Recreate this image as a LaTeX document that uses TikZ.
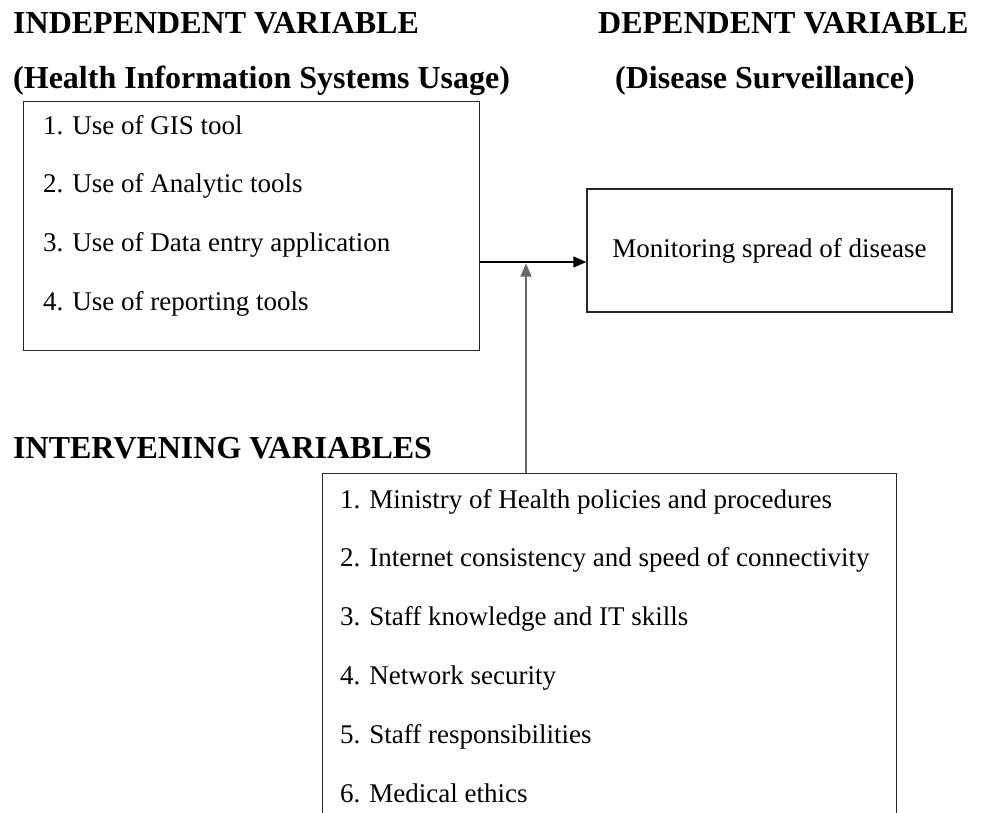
\documentclass[tikz,border=0pt]{standalone}
\usepackage{fontspec}
\setmainfont{Liberation Serif}
\usetikzlibrary{arrows.meta}

\tikzset{
  head/.style={anchor=base west, inner sep=0pt, font=\bfseries\fontsize{32}{36}\selectfont},
  item/.style={anchor=base west, inner sep=0pt, font=\fontsize{27}{32}\selectfont},
  varbox/.style={draw=black!85, line width=1.4pt, inner sep=0pt},
  link/.style={draw=black, line width=1.3pt, -{Triangle[length=13pt,width=11pt]}}
}

\begin{document}
\begin{tikzpicture}[x=1pt, y=-1pt]
  \useasboundingbox (0,0) rectangle (985,812);

  % headings
  \node[head] (indep) at (13,33) {INDEPENDENT VARIABLE};
  \node[head] (indepsub) at (13,88) {(Health Information Systems Usage)};
  \node[head] (dep) at (598,33) {DEPENDENT VARIABLE};
  \node[head] (depsub) at (615,88) {(Disease Surveillance)};
  \node[head] (interhead) at (13,458) {INTERVENING VARIABLES};

  % boxes
  \node[varbox, anchor=north west, minimum width=456, minimum height=249] (hisu) at (23,101) {};
  \node[varbox, minimum width=365, minimum height=123, font=\fontsize{27}{32}\selectfont] (dsurv) at (769.5,250.5) {Monitoring spread of disease};
  \begin{scope}
    \clip (0,0) rectangle (985,812);
    \node[varbox, overlay, anchor=north west, minimum width=574, minimum height=380] (interv) at (322,473) {};
  \end{scope}

  % lists
  \foreach \txt [count=\i] in {Use of GIS tool, Use of Analytic tools,
      Use of Data entry application, Use of reporting tools}
    \node[item] (hisu-\i) at (43,{134+(\i-1)*58.7}) {\i. \txt};
  \foreach \txt [count=\i] in {Ministry of Health policies and procedures,
      Internet consistency and speed of connectivity,
      Staff knowledge and IT skills, Network security,
      Staff responsibilities, Medical ethics}
    \node[item] (interv-\i) at (340,{508+(\i-1)*58.8}) {\i. \txt};

  % connectors
  \coordinate (jn) at (526,262);
  \draw[link] (hisu.east |- jn) -- (dsurv.west |- jn);
  \draw[link, draw=black!60, shorten >=1.5pt] (interv.north -| jn) -- (jn);
\end{tikzpicture}
\end{document}
